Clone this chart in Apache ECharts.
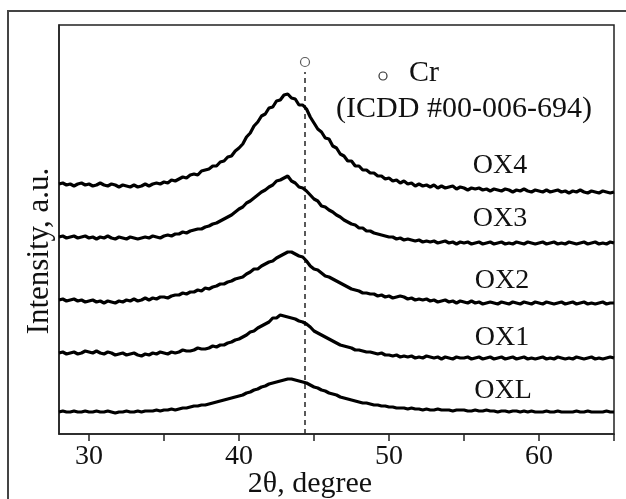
<!DOCTYPE html>
<html>
<head>
<meta charset="utf-8">
<script src="https://cdn.jsdelivr.net/npm/echarts@6/dist/echarts.min.js"></script>
<style>
html,body{margin:0;padding:0;background:#fff;}
#chart{width:626px;height:499px;}
</style>
</head>
<body>
<div id="chart"></div>
<script>
// 2θ sampling grid (degrees)
const thetaStart = 28;
const thetaStep = 0.25;

// Intensity (a.u., vertically offset patterns as plotted)
const OX4 = [
250,251,249,250, 248,250,251,249, 250,248,249,251, 249,248,250,249,
247,249,248,247, 249,247,248,250, 248,250,251,250, 252,251,254,253,
255,257,256,259, 260,259,263,264, 265,268,268,272, 273,277,278,283,
286,290,297,301, 308,312,318,320, 326,327,333,334, 339,340,336,335,
329,329,325,317, 311,305,302,296, 295,288,286,280, 278,273,273,268,
268,264,264,261, 261,258,258,255, 256,253,254,251, 253,250,251,248,
250,248,249,247, 249,246,248,246, 247,248,245,247, 246,244,246,245,
246,244,245,243, 245,244,243,245, 244,242,244,243, 245,243,242,244,
243,242,244,242, 243,244,242,243, 241,243,242,244, 242,241,243,242,
241,243,242,241, 242];

const OX3 = [
197,198,196,197, 198,196,197,198, 196,197,195,197, 196,198,196,195,
197,196,195,197, 196,195,196,197, 196,198,197,196, 198,199,198,200,
200,202,201,203, 204,205,205,207, 208,210,211,213, 215,217,219,222,
225,227,231,233, 236,239,242,244, 247,249,253,254, 256,258,253,251,
247,246,243,239, 235,233,228,227, 224,222,219,217, 214,212,210,209,
206,206,203,203, 201,200,199,198, 197,197,195,196, 194,195,194,193,
194,192,193,192, 193,191,192,193, 191,192,190,192, 191,192,190,191,
192,190,191,192, 190,191,192,190, 191,190,192,191, 190,192,191,190,
191,192,190,191, 192,190,191,190, 192,191,190,191, 192,190,191,192,
190,191,190,192, 191];

const OX2 = [
134,135,133,134, 135,133,134,132, 133,134,132,133, 131,133,132,131,
133,132,134,133, 135,133,134,136, 134,136,135,137, 137,136,138,139,
139,141,140,142, 142,144,143,146, 145,147,148,150, 150,152,153,155,
156,157,160,162, 165,165,168,170, 172,173,176,178, 180,182,182,180,
178,177,173,168, 165,164,161,158, 157,155,153,151, 149,147,145,144,
143,141,141,140, 140,138,139,137, 138,136,137,138, 137,135,136,134,
135,134,135,133, 134,132,133,134, 132,133,131,133, 132,131,133,131,
132,130,131,132, 131,130,132,131, 130,132,131,130, 132,131,130,132,
131,130,132,131, 130,131,132,130, 131,132,130,131, 132,130,131,130,
131,132,130,131, 131];

const OX1 = [
81,82,80,81, 82,80,81,83, 82,81,83,81, 80,82,81,79,
80,81,79,80, 81,79,78,80, 79,81,80,82, 81,80,82,81,
82,84,83,83, 84,86,85,85, 86,88,87,89, 89,91,92,94,
95,97,99,102, 103,106,108,110, 112,116,116,119, 118,117,116,115,
113,112,110,107, 103,101,99,97, 95,93,91,89, 88,87,86,84,
84,83,82,82, 81,80,81,79, 79,78,79,77, 78,77,78,76,
77,76,78,77, 76,77,75,77, 76,75,77,76, 76,77,75,76,
77,75,76,77, 75,76,77,75, 76,77,75,76, 77,75,76,75,
76,77,75,76, 75,77,76,75, 76,75,77,76, 75,76,77,75,
76,75,76,77, 76];

const OXL = [
22,23,22,22, 23,22,22,23, 22,22,23,22, 22,23,22,21,
22,22,23,22, 22,23,22,23, 23,23,24,23, 24,24,25,24,
25,26,26,27, 28,28,29,29, 30,31,32,33, 34,35,36,37,
38,39,41,42, 44,45,47,48, 50,51,52,53, 54,55,55,54,
53,52,51,49, 47,46,44,43, 41,40,39,37, 36,35,34,33,
32,31,31,30, 29,29,28,28, 27,27,26,26, 26,25,26,25,
25,24,25,24, 24,25,24,24, 24,23,24,24, 24,23,23,24,
23,23,24,23, 23,22,23,23, 22,23,23,22, 23,22,23,22,
22,22,23,22, 22,23,22,22, 22,22,23,22, 22,23,22,22,
22,22,23,22, 22];

const seriesNames = ['OX4','OX3','OX2','OX1','OXL'];
const seriesValues = [OX4, OX3, OX2, OX1, OXL];

// Cr reference line (ICDD #00-006-694)
const crPosition = [44.4];
const crLineTop = 362;
const crMarkerValue = 372;

const xTickValues = [30,35,40,45,50,55,60,65];
const xLabelValues = [30,40,50,60];

const SERIF = '"Liberation Serif", "DejaVu Serif", serif';

const chart = echarts.init(document.getElementById('chart'), null, {renderer:'canvas'});

const lineSeries = seriesValues.map((vals, k) => ({
  name: seriesNames[k],
  type: 'line',
  showSymbol: false,
  silent: true,
  data: vals.map((v, i) => [thetaStart + thetaStep * i, v]),
  lineStyle: {color: '#000', width: 3.2},
  z: 3
}));

function txt(x, y, s, size) {
  return {type: 'text', x: x, y: y, silent: true,
    style: {text: s, fontFamily: SERIF, fontSize: size, fill: '#111', align: 'center', verticalAlign: 'middle'}};
}

const option = {
  animation: false,
  backgroundColor: '#fff',
  grid: {
    left: 59, right: 12, top: 25, bottom: 65,
    show: true, borderColor: '#222', borderWidth: 1.5, backgroundColor: 'transparent'
  },
  xAxis: {
    type: 'value', min: 28, max: 65,
    axisLine: {show: true, lineStyle: {color: '#222', width: 1.5}},
    axisTick: {show: true, customValues: xTickValues, length: 7, inside: false, lineStyle: {color: '#222', width: 1.5}},
    axisLabel: {customValues: xLabelValues, fontFamily: SERIF, fontSize: 28, color: '#111', margin: 9},
    splitLine: {show: false}
  },
  yAxis: {
    type: 'value', min: 0, max: 409,
    axisLine: {show: true, lineStyle: {color: '#222', width: 1.5}},
    axisTick: {show: false}, axisLabel: {show: false}, splitLine: {show: false}
  },
  series: lineSeries.concat([
    {
      type: 'line', silent: true, showSymbol: false,
      data: [[crPosition[0], 0], [crPosition[0], crLineTop]],
      lineStyle: {color: '#222', width: 1.5, type: [5, 4]},
      z: 2
    },
    {
      type: 'scatter', silent: true,
      data: [[crPosition[0], crMarkerValue]],
      symbol: 'circle', symbolSize: 9,
      itemStyle: {color: '#fff', borderColor: '#333', borderWidth: 1.2},
      z: 4
    }
  ]),
  graphic: [
    {type: 'rect', shape: {x: 8, y: 11, width: 700, height: 600}, style: {fill: 'none', stroke: '#444', lineWidth: 2}, silent: true},
    {type: 'text', x: 40, y: 251, rotation: Math.PI / 2, silent: true,
      style: {text: 'Intensity, a.u.', fontFamily: SERIF, fontSize: 31, fill: '#111', align: 'center', verticalAlign: 'middle'}},
    txt(310, 484, '2θ, degree', 30),
    {type: 'circle', shape: {cx: 383, cy: 76, r: 4}, style: {fill: '#fff', stroke: '#333', lineWidth: 1.2}, silent: true},
    txt(424, 73, 'Cr', 30),
    txt(464, 109, '(ICDD #00-006-694)', 30),
    txt(500, 166, 'OX4', 28),
    txt(500, 219, 'OX3', 28),
    txt(502, 281, 'OX2', 28),
    txt(502, 338, 'OX1', 28),
    txt(503, 391, 'OXL', 28)
  ]
};
chart.setOption(option);
</script>
</body>
</html>
